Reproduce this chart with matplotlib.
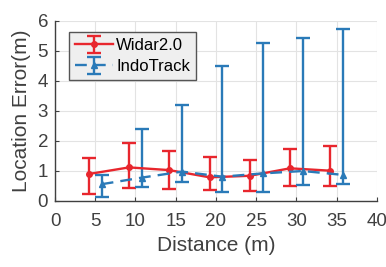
import numpy as np
import matplotlib.pyplot as plt

plt.rcParams['font.family'] = ['Liberation Sans', 'DejaVu Sans']

# data
widar_x = [4.2, 9.2, 14.2, 19.2, 24.2, 29.2, 34.2]
widar_mean = [0.89, 1.11, 1.02, 0.78, 0.83, 1.08, 1.00]
widar_low = [0.22, 0.42, 0.39, 0.36, 0.33, 0.50, 0.49]
widar_high = [1.43, 1.91, 1.67, 1.45, 1.36, 1.72, 1.82]

indo_x = [5.8, 10.8, 15.8, 20.8, 25.8, 30.8, 35.8]
indo_mean = [0.55, 0.77, 0.97, 0.80, 0.91, 0.99, 0.86]
indo_low = [0.11, 0.45, 0.63, 0.30, 0.28, 0.52, 0.55]
indo_high = [0.86, 2.38, 3.20, 4.49, 5.25, 5.42, 5.71]

red = '#e8262d'
blue = '#2a7ab8'
dark = '#404040'

fig = plt.figure(figsize=(3.86, 2.67), dpi=100)
ax = fig.add_axes([0.1425, 0.2483, 0.834, 0.6742])

def err(mean, low, high):
    m = np.array(mean)
    return [m - np.array(low), np.array(high) - m]

ax.errorbar(widar_x, widar_mean, yerr=err(widar_mean, widar_low, widar_high),
            color=red, marker='o', markersize=4, linewidth=1.7, elinewidth=1.7,
            capsize=5, capthick=1.7, label='Widar2.0', zorder=3)
ax.errorbar(indo_x, indo_mean, yerr=err(indo_mean, indo_low, indo_high),
            color=blue, marker='^', markersize=4.5, linewidth=1.7, elinewidth=1.7,
            linestyle=(0, (5, 3)), capsize=5, capthick=1.7, label='IndoTrack', zorder=3)

ax.set_xlim(0, 40)
ax.set_ylim(0, 6)
ax.set_xticks(np.arange(0, 41, 5))
ax.set_yticks(np.arange(0, 7, 1))
ax.grid(True, color='#e3e3e3', linewidth=0.8)
ax.set_axisbelow(True)
for s in ['top', 'right']:
    ax.spines[s].set_visible(False)
for s in ['left', 'bottom']:
    ax.spines[s].set_color(dark)
    ax.spines[s].set_linewidth(1.0)
ax.tick_params(direction='in', length=3, colors=dark, labelsize=13.5,
               labelcolor='#404040')
ax.tick_params(axis='x', pad=9)
ax.tick_params(axis='y', pad=5)
ax.set_xlabel('Distance (m)', fontsize=15, color='#404040', labelpad=4)
ax.set_ylabel('Location Error(m)', fontsize=15, color='#404040', labelpad=5)

leg = ax.legend(loc='upper left', bbox_to_anchor=(0.043, 0.935), fontsize=12,
                fancybox=False, framealpha=1, handlelength=2.3,
                borderpad=0.35, labelspacing=0.35, handletextpad=0.2, borderaxespad=0)
leg.get_frame().set_facecolor('#efefef')
leg.get_frame().set_edgecolor('#555555')
leg.get_frame().set_linewidth(1.0)

fig.savefig('out.png', dpi=100)
